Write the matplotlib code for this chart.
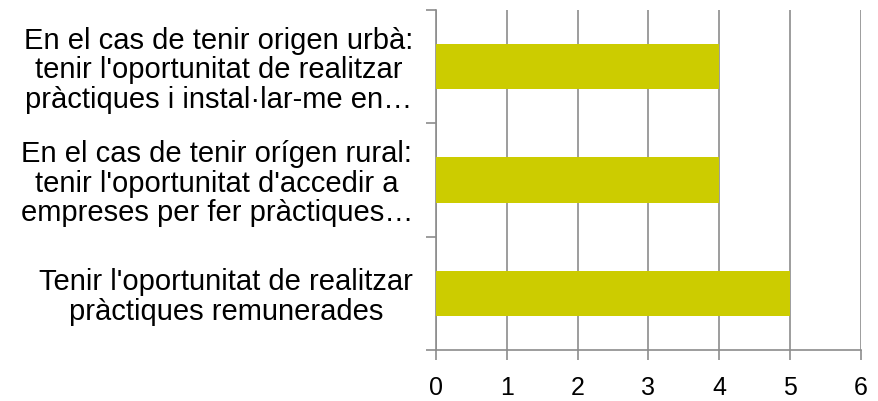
import matplotlib
matplotlib.use("Agg")
from matplotlib import pyplot as plt

# categories (bottom to top) and values
categories = [
    "Tenir l'oportunitat de realitzar\npràctiques remunerades",
    "En el cas de tenir orígen rural:\ntenir l'oportunitat d'accedir a\nempreses per fer pràctiques…",
    "En el cas de tenir origen urbà:\ntenir l'oportunitat de realitzar\npràctiques i instal·lar-me en…",
]
values = [5, 4, 4]
xticks = [0, 1, 2, 3, 4, 5, 6]

plt.rcParams['font.family'] = ['Liberation Sans', 'DejaVu Sans']

fig = plt.figure(figsize=(8.79, 4.01), dpi=100)
ax = fig.add_axes([436 / 879, 1 - 350 / 401, (861 - 436) / 879, 340 / 401])

pos = range(len(categories))
ax.barh(pos, values, height=0.4, color='#cccc00', zorder=3)

ax.set_xlim(0, 6)
ax.set_ylim(-0.5, 2.5)
ax.set_xticks(xticks)
ax.set_xticklabels([str(t) for t in xticks])
ax.xaxis.grid(True, color='#8c8c8c', linewidth=1.2, zorder=0)

# category boundary ticks on the y axis
ax.set_yticks([-0.5, 0.5, 1.5, 2.5])
ax.set_yticklabels([])
ax.set_yticks(list(pos), minor=True)
ax.set_yticklabels(categories, minor=True, fontsize=21, multialignment='center',
                   linespacing=1.06)
ax.tick_params(axis='y', which='minor', length=0, pad=16.5)
ax.tick_params(axis='y', which='major', length=7, color='#8c8c8c', width=1.2)
ax.tick_params(axis='x', length=7, color='#8c8c8c', width=1.2, labelsize=18, pad=12)

for s in ['top', 'right']:
    ax.spines[s].set_visible(False)
for s in ['left', 'bottom']:
    ax.spines[s].set_color('#8c8c8c')
    ax.spines[s].set_linewidth(1.2)

fig.savefig('out.png', dpi=100)
